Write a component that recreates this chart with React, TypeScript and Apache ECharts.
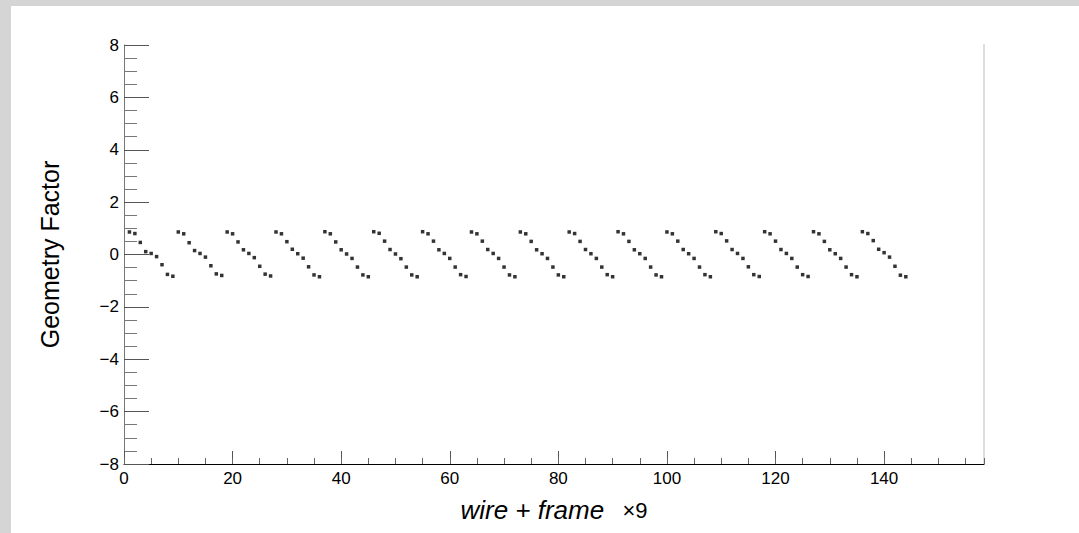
import React, { useEffect, useRef } from "react";
import * as echarts from "echarts";

// Geometry factor per wire, 16 frames of 9 wires each (x = wire + frame*9, 1..144)
const frame01 = [0.86, 0.8, 0.46, 0.11, 0.04, -0.08, -0.39, -0.76, -0.83];
const frame02 = [0.86, 0.79, 0.45, 0.15, 0.04, -0.1, -0.43, -0.74, -0.8];
const frame03 = [0.86, 0.79, 0.48, 0.18, 0.04, -0.12, -0.45, -0.75, -0.82];
const frame04 = [0.86, 0.79, 0.49, 0.2, 0.03, -0.14, -0.47, -0.78, -0.85];
const frame05 = [0.87, 0.79, 0.48, 0.18, 0.02, -0.15, -0.48, -0.78, -0.85];
const frame06 = [0.87, 0.81, 0.51, 0.19, 0.02, -0.16, -0.48, -0.78, -0.85];
const frame07 = [0.87, 0.79, 0.51, 0.18, 0.04, -0.15, -0.48, -0.77, -0.84];
const frame08 = [0.86, 0.79, 0.51, 0.19, 0.04, -0.15, -0.48, -0.78, -0.85];
const frame09 = [0.86, 0.79, 0.5, 0.18, 0.03, -0.15, -0.48, -0.78, -0.85];
const frame10 = [0.86, 0.8, 0.5, 0.19, 0.03, -0.15, -0.48, -0.77, -0.85];
const frame11 = [0.87, 0.79, 0.5, 0.18, 0.03, -0.15, -0.48, -0.78, -0.85];
const frame12 = [0.86, 0.79, 0.51, 0.19, 0.03, -0.15, -0.48, -0.77, -0.85];
const frame13 = [0.87, 0.8, 0.52, 0.19, 0.04, -0.15, -0.47, -0.77, -0.84];
const frame14 = [0.87, 0.79, 0.51, 0.19, 0.04, -0.15, -0.48, -0.77, -0.84];
const frame15 = [0.87, 0.79, 0.5, 0.18, 0.03, -0.15, -0.48, -0.77, -0.85];
const frame16 = [0.87, 0.8, 0.53, 0.2, 0.07, -0.1, -0.45, -0.79, -0.85];

const frames = [
  frame01, frame02, frame03, frame04, frame05, frame06, frame07, frame08,
  frame09, frame10, frame11, frame12, frame13, frame14, frame15, frame16,
];

const xMin = 0;
const xMax = 158.4;
const yMin = -8;
const yMax = 8;

const FONT = "Liberation Sans";

export default function App() {
  const ref = useRef<HTMLDivElement>(null);

  useEffect(() => {
    if (!ref.current) return;
    const chart = echarts.init(ref.current, undefined, { renderer: "svg" });

    const points: number[][] = [];
    frames.forEach((f, fi) => {
      f.forEach((v, wi) => {
        points.push([fi * 9 + wi + 1, v]);
      });
    });

    const gridBox = { left: 113, right: 95, top: 39, bottom: 69 };
    const labelRich = { a: { fontSize: 17, fontFamily: FONT, color: "#000" } };

    chart.setOption({
      animation: false,
      textStyle: { fontFamily: FONT, color: "#000", fontSize: 17 },
      grid: [
        { ...gridBox },
        { ...gridBox },
      ],
      xAxis: [
        {
          type: "value",
          gridIndex: 0,
          min: xMin,
          max: xMax,
          interval: 20,
          position: "bottom",
          axisLine: { show: true, onZero: false, lineStyle: { color: "#000", width: 1 } },
          axisTick: { show: true, inside: true, length: 13, lineStyle: { color: "#555" } },
          axisLabel: {
            showMaxLabel: false,
            fontSize: 17,
            color: "#000",
            margin: 6,
            fontFamily: FONT,
            formatter: (v: number) => `{a|${v}}`,
            rich: labelRich,
          },
          splitLine: { show: false },
          name: "{i|wire + frame}{n|   ×9}",
          nameLocation: "middle",
          nameGap: 33,
          nameTextStyle: {
            color: "#000",
            fontFamily: FONT,
            rich: {
              i: { fontStyle: "italic", fontSize: 26, fontFamily: FONT, color: "#000" },
              n: { fontSize: 22, fontFamily: FONT, color: "#000" },
            },
          },
        },
        {
          type: "value",
          gridIndex: 1,
          min: xMin,
          max: xMax,
          interval: 5,
          position: "bottom",
          axisLine: { show: false, onZero: false },
          axisTick: { show: true, inside: true, length: 6, lineStyle: { color: "#666" } },
          axisLabel: { show: false },
          splitLine: { show: false },
        },
      ],
      yAxis: [
        {
          type: "value",
          gridIndex: 0,
          min: yMin,
          max: yMax,
          interval: 2,
          position: "left",
          axisLine: { show: true, onZero: false, lineStyle: { color: "#777", width: 1 } },
          axisTick: { show: true, inside: true, length: 25, lineStyle: { color: "#555" } },
          minorTick: { show: true, splitNumber: 4, length: 13, lineStyle: { color: "#777" } },
          axisLabel: {
            fontSize: 17,
            color: "#000",
            margin: 5,
            fontFamily: FONT,
            formatter: (v: number) => `{a|${String(v).replace("-", "\u2212")}}`,
            rich: labelRich,
          },
          splitLine: { show: false },
          name: "Geometry Factor",
          nameLocation: "middle",
          nameGap: 62,
          nameTextStyle: { fontSize: 25, color: "#000", fontFamily: FONT },
        },
        {
          type: "value",
          gridIndex: 1,
          min: yMin,
          max: yMax,
          position: "right",
          axisLine: { show: true, onZero: false, lineStyle: { color: "#dcdcdc", width: 2 } },
          axisTick: { show: false },
          axisLabel: { show: false },
          splitLine: { show: false },
        },
      ],
      series: [
        {
          type: "scatter",
          xAxisIndex: 0,
          yAxisIndex: 0,
          data: points,
          symbol: "rect",
          symbolSize: 3.5,
          itemStyle: { color: "#000" },
          z: 5,
        },
      ],
    });

    return () => chart.dispose();
  }, []);

  return (
    <div
      style={{
        position: "absolute",
        left: 0,
        top: 0,
        width: 1079,
        height: 533,
        background: "#d5d5d5",
      }}
    >
      <div
        ref={ref}
        style={{
          position: "absolute",
          left: 11,
          top: 6,
          width: 1068,
          height: 527,
          background: "#fff",
        }}
      />
    </div>
  );
}
